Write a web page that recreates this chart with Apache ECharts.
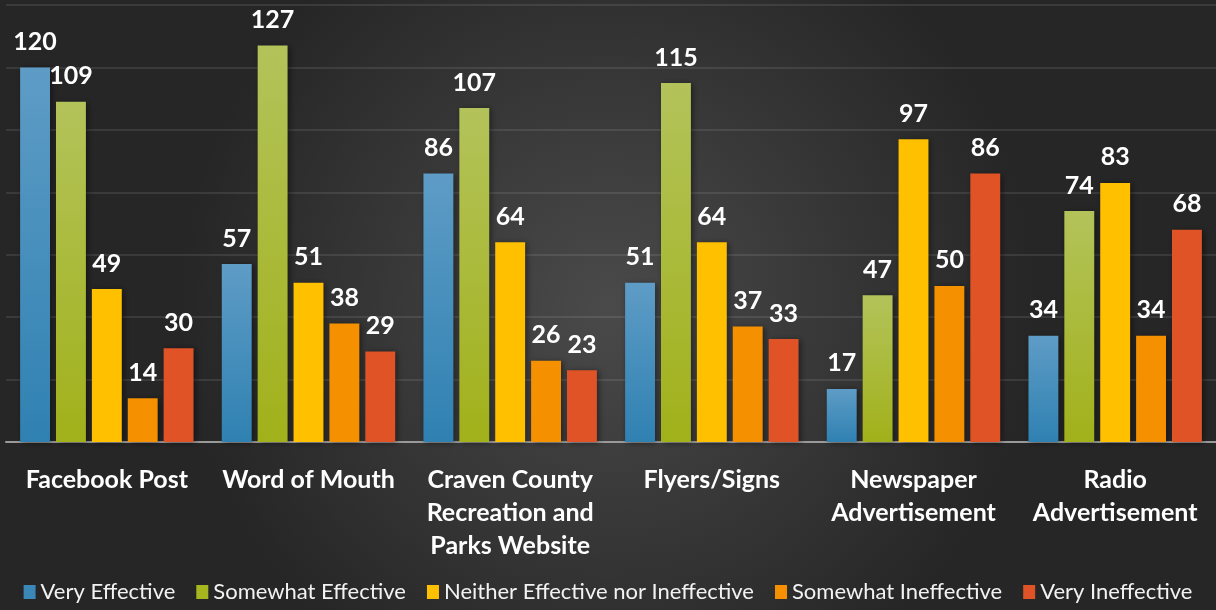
<!DOCTYPE html>
<html>
<head>
<meta charset="utf-8">
<script src="https://cdn.jsdelivr.net/npm/echarts@6/dist/echarts.min.js"></script>
<style>
  html, body { margin: 0; padding: 0; }
  #chart { width: 1216px; height: 610px; }
</style>
</head>
<body>
<div id="chart"></div>
<script>
  const categories = ['Facebook Post', 'Word of Mouth', 'Craven County\nRecreation and\nParks Website', 'Flyers/Signs', 'Newspaper\nAdvertisement', 'Radio\nAdvertisement'];
  const veryEffective = [120, 57, 86, 51, 17, 34];
  const somewhatEffective = [109, 127, 107, 115, 47, 74];
  const neither = [49, 51, 64, 64, 97, 83];
  const somewhatIneffective = [14, 38, 26, 37, 50, 34];
  const veryIneffective = [30, 29, 23, 33, 86, 68];

  const grad = (top, bottom) => new echarts.graphic.LinearGradient(0, 0, 0, 1, [
    { offset: 0, color: top }, { offset: 1, color: bottom }
  ]);

  function makeSeries(name, data, color) {
    return {
      name: name,
      type: 'bar',
      data: data,
      barGap: '20%',
      barCategoryGap: '14%',
      itemStyle: {
        color: color,
        shadowColor: 'rgba(0,0,0,0.45)',
        shadowBlur: 6,
        shadowOffsetX: 2,
        shadowOffsetY: 1
      },
      label: {
        show: true,
        position: 'top',
        distance: 13,
        color: '#ffffff',
        fontFamily: 'Lato',
        fontWeight: 'bold',
        fontSize: 25
      }
    };
  }

  const chart = echarts.init(document.getElementById('chart'));
  chart.setOption({
    backgroundColor: new echarts.graphic.RadialGradient(0.5, 0.5, 0.7, [
      { offset: 0, color: '#4a4a4a' },
      { offset: 1, color: '#262626' }
    ]),
    animation: false,
    grid: { left: 6, right: 0, top: 5, bottom: 168, containLabel: false },
    legend: {
      bottom: 2,
      left: 'center',
      itemWidth: 12,
      itemHeight: 14,
      itemGap: 21,
      icon: 'rect',
      textStyle: { color: '#f2f2f2', fontFamily: 'Lato', fontSize: 22 },
      data: [
        { name: 'Very Effective', itemStyle: { color: '#3a87b8' } },
        { name: 'Somewhat Effective', itemStyle: { color: '#a6b61e' } },
        { name: 'Neither Effective nor Ineffective', itemStyle: { color: '#ffc000' } },
        { name: 'Somewhat Ineffective', itemStyle: { color: '#f59000' } },
        { name: 'Very Ineffective', itemStyle: { color: '#e05327' } }
      ]
    },
    xAxis: {
      type: 'category',
      data: categories,
      axisLine: { lineStyle: { color: '#9a9a9a', width: 2 } },
      axisTick: { show: false },
      axisLabel: {
        color: '#ffffff',
        fontFamily: 'Lato',
        fontWeight: 'bold',
        fontSize: 25,
        lineHeight: 33,
        margin: 21,
        interval: 0
      }
    },
    yAxis: {
      type: 'value',
      min: 0,
      max: 140,
      interval: 20,
      axisLine: { show: false },
      axisTick: { show: false },
      axisLabel: { show: false },
      splitLine: { lineStyle: { color: 'rgba(255,255,255,0.13)', width: 1.5 } }
    },
    series: [
      makeSeries('Very Effective', veryEffective, grad('#5e9cc6', '#2f81b2')),
      makeSeries('Somewhat Effective', somewhatEffective, grad('#b3c35a', '#a1b11a')),
      makeSeries('Neither Effective nor Ineffective', neither, '#ffc000'),
      makeSeries('Somewhat Ineffective', somewhatIneffective, '#f59000'),
      makeSeries('Very Ineffective', veryIneffective, '#e05327')
    ]
  });
</script>
</body>
</html>
